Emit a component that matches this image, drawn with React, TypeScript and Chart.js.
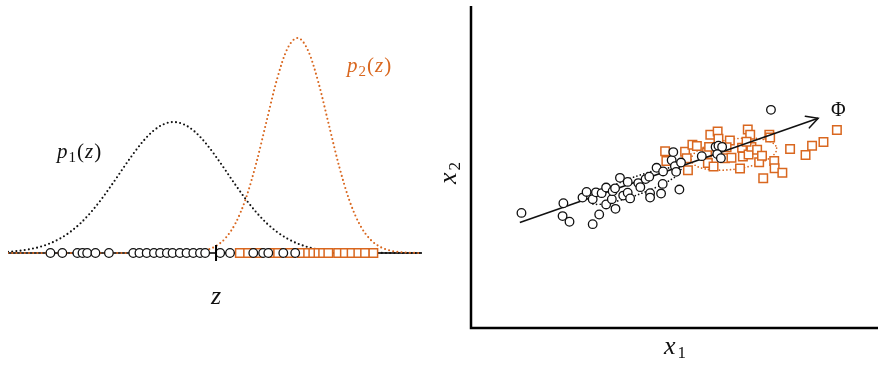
import React, { useEffect, useRef } from "react";
import { Chart, registerables } from "chart.js";

Chart.register(...registerables);

const ORANGE = "#d9671f";
const INK = "#111111";
const SERIF = '"Liberation Serif", "DejaVu Serif", serif';

// ---- Left panel: projected densities along z ----
const zGrid = [
  -3.2, -3.0, -2.8, -2.6, -2.4, -2.2, -2.0, -1.8, -1.6, -1.4, -1.2, -1.0, -0.8, -0.6, -0.4, -0.2,
  0.0, 0.2, 0.4, 0.6, 0.8, 1.0, 1.2, 1.4, 1.6, 1.8, 2.0, 2.2, 2.4, 2.6, 2.8, 3.0, 3.2, 3.4, 3.6,
  3.8, 4.0, 4.2, 4.4, 4.6, 4.8,
];
const p1Values = [
  0.012, 0.021, 0.036, 0.059, 0.094, 0.143, 0.21, 0.297, 0.406, 0.534, 0.678, 0.829, 0.977, 1.111,
  1.218, 1.286, 1.31, 1.286, 1.218, 1.111, 0.977, 0.829, 0.678, 0.534, 0.406, 0.297, 0.21, 0.143,
  0.094, 0.059, 0.036, 0.021, 0.012, 0.007, 0.003, 0.002, 0.001, 0, 0, 0, 0,
];
const p2Values = [
  0, 0, 0, 0, 0, 0, 0, 0, 0, 0, 0, 0, 0, 0, 0, 0,
  0.001, 0.003, 0.009, 0.025, 0.064, 0.147, 0.301, 0.551, 0.904, 1.326, 1.741, 2.045, 2.15, 2.022,
  1.702, 1.282, 0.864, 0.521, 0.281, 0.136, 0.059, 0.023, 0.008, 0.002, 0,
];
const zCircles = [
  -2.38, -2.15, -1.86, -1.76, -1.67, -1.51, -1.25, -0.78, -0.66, -0.52, -0.38, -0.26, -0.13, -0.02,
  0.12, 0.25, 0.38, 0.51, 0.61, 0.9, 1.09, 1.54, 1.73, 1.83, 2.12, 2.35,
];
const zSquares = [
  1.28, 1.44, 1.63, 1.92, 2.02, 2.25, 2.48, 2.6, 2.7, 2.8, 2.89, 2.99, 3.18, 3.31, 3.44, 3.57, 3.7,
  3.86,
];
const zRange = [-3.2, 4.8];
const zThreshold = 0.82;

// ---- Right panel: 2-D scatter ----
const class1X1 = [
  1.24, 2.27, 2.25, 2.42, 2.99, 3.15, 2.74, 2.84, 2.99, 3.07, 3.21, 3.32, 3.32, 3.46, 3.48, 3.54,
  3.55, 3.66, 3.74, 3.85, 3.85, 3.91, 4.11, 4.16, 4.29, 4.38, 4.4, 4.4, 4.56, 4.67, 4.71, 4.72,
  4.93, 4.97, 5.01, 5.04, 5.12, 5.16, 5.67, 6.01, 6.08, 6.17, 6.05, 6.14, 7.37,
];
const class1X2 = [
  2.86, 3.1, 2.78, 2.64, 2.58, 2.82, 3.24, 3.38, 3.2, 3.37, 3.35, 3.49, 3.07, 3.2, 3.4, 3.47,
  2.96, 3.73, 3.29, 3.36, 3.63, 3.22, 3.6, 3.5, 3.7, 3.76, 3.35, 3.24, 3.98, 3.34, 3.58, 3.89,
  4.17, 4.37, 4.02, 3.88, 3.44, 4.11, 4.27, 4.5, 4.53, 4.5, 4.32, 4.22, 5.42,
];
const class2X1 = [
  4.77, 4.8, 5.26, 5.3, 5.33, 5.44, 5.55, 5.8, 5.82, 5.88, 5.96, 6.06, 6.08, 6.24, 6.36, 6.4, 6.61,
  6.66, 6.68, 6.8, 6.82, 6.86, 6.89, 6.77, 7.03, 7.08, 7.15, 7.18, 7.33, 7.35, 7.45, 7.46, 7.65,
  7.84, 8.22, 8.38, 8.66, 8.99, 6.28, 5.85,
];
const class2X2 = [
  4.39, 4.15, 4.38, 4.22, 3.92, 4.55, 4.52, 4.36, 4.1, 4.8, 4.01, 4.88, 4.7, 4.22, 4.66, 4.23, 3.96,
  4.48, 4.26, 4.93, 4.31, 4.8, 4.5, 4.63, 4.43, 4.12, 4.28, 3.72, 4.8, 4.73, 4.15, 3.97, 3.86, 4.45,
  4.3, 4.53, 4.62, 4.92, 4.49, 4.5,
];
const arrowX1 = [1.2, 8.53];
const arrowX2 = [2.62, 5.21];
const x1Range = [0, 10];
const x2Range = [0, 8];

// dotted covariance ellipses (centre in data units, semi-axes in x1 units, tilt in degrees)
const ellipses = [
  { cx: 4.05, cy: 3.53, a: 1.18, b: 0.22, angle: 20, color: INK },
  { cx: 6.46, cy: 4.32, a: 1.06, b: 0.37, angle: 8, color: ORANGE },
];

const pairs = (xs: number[], ys: number[]) => xs.map((x, i) => ({ x, y: ys[i] }));

const dotted = {
  borderDash: [0, 4.2],
  borderCapStyle: "round" as const,
  borderWidth: 2.1,
  pointRadius: 0,
  showLine: true,
  cubicInterpolationMode: "monotone" as const,
};

const rightPlugin = {
  id: "axesAndShapes",
  beforeDatasetsDraw(chart: any) {
    const { ctx, chartArea, scales } = chart;
    const xs = scales.x;
    const ys = scales.y;
    ctx.save();
    ctx.strokeStyle = "#000";
    ctx.lineWidth = 2.5;
    ctx.lineCap = "butt";
    ctx.beginPath();
    ctx.moveTo(chartArea.left, chartArea.top);
    ctx.lineTo(chartArea.left, chartArea.bottom);
    ctx.lineTo(chartArea.right, chartArea.bottom);
    ctx.stroke();
    const ppu = Math.abs(xs.getPixelForValue(1) - xs.getPixelForValue(0));
    for (const e of ellipses) {
      ctx.beginPath();
      ctx.strokeStyle = e.color;
      ctx.lineWidth = 1.7;
      ctx.lineCap = "round";
      ctx.setLineDash([0, 3.6]);
      ctx.ellipse(
        xs.getPixelForValue(e.cx),
        ys.getPixelForValue(e.cy),
        e.a * ppu,
        e.b * ppu,
        (-e.angle * Math.PI) / 180,
        0,
        Math.PI * 2
      );
      ctx.stroke();
    }
    ctx.restore();
  },
  afterDatasetsDraw(chart: any) {
    const meta = chart.getDatasetMeta(1);
    const pts = meta.data;
    if (!pts || pts.length < 2) return;
    const p0 = pts[pts.length - 2];
    const p1 = pts[pts.length - 1];
    const ang = Math.atan2(p1.y - p0.y, p1.x - p0.x);
    const L = 13;
    const th = (28 * Math.PI) / 180;
    const { ctx } = chart;
    ctx.save();
    ctx.strokeStyle = INK;
    ctx.lineWidth = 1.5;
    ctx.lineCap = "round";
    ctx.beginPath();
    ctx.moveTo(p1.x - L * Math.cos(ang - th), p1.y - L * Math.sin(ang - th));
    ctx.lineTo(p1.x, p1.y);
    ctx.lineTo(p1.x - L * Math.cos(ang + th), p1.y - L * Math.sin(ang + th));
    ctx.stroke();
    ctx.restore();
  },
};

function Sub({ children, size, drop, gap = 0 }: { children: React.ReactNode; size: number; drop: number; gap?: number }) {
  return (
    <span style={{ fontSize: size, fontStyle: "normal", position: "relative", top: drop, marginLeft: gap }}>
      {children}
    </span>
  );
}

export default function App() {
  const leftRef = useRef<HTMLCanvasElement>(null);
  const rightRef = useRef<HTMLCanvasElement>(null);

  useEffect(() => {
    const left = new Chart(leftRef.current as HTMLCanvasElement, {
      type: "scatter",
      data: {
        datasets: [
          {
            data: [
              { x: zThreshold, y: -0.08 },
              { x: zThreshold, y: 0.08 },
            ],
            showLine: true,
            borderColor: "#000",
            borderWidth: 2,
            pointRadius: 0,
            order: 0,
          },
          {
            data: zCircles.map((x) => ({ x, y: 0 })),
            pointStyle: "circle",
            pointRadius: 4.3,
            pointBorderWidth: 1.3,
            pointBorderColor: INK,
            pointBackgroundColor: "#fff",
            order: 1,
          },
          {
            data: zSquares.map((x) => ({ x, y: 0 })),
            pointStyle: "rect",
            pointRadius: 6,
            pointBorderWidth: 1.5,
            pointBorderColor: ORANGE,
            pointBackgroundColor: "#fff",
            order: 2,
          },
          { ...dotted, data: pairs(zGrid, p2Values), borderColor: ORANGE, order: 3 },
          { ...dotted, data: pairs(zGrid, p1Values), borderColor: INK, order: 4 },
          {
            data: [
              { x: zRange[0], y: 0 },
              { x: zRange[1], y: 0 },
            ],
            showLine: true,
            borderColor: "#3a3a3a",
            borderWidth: 2,
            pointRadius: 0,
            order: 5,
          },
        ] as any,
      },
      options: {
        animation: false,
        responsive: false,
        events: [],
        layout: { autoPadding: false, padding: { left: 8, right: 18, top: 8, bottom: 0 } },
        plugins: { legend: { display: false }, tooltip: { enabled: false } },
        scales: {
          x: { type: "linear", display: false, min: zRange[0], max: zRange[1] },
          y: { type: "linear", display: false, min: -0.67, max: 2.45 },
        },
      } as any,
    });

    const right = new Chart(rightRef.current as HTMLCanvasElement, {
      type: "scatter",
      data: {
        datasets: [
          {
            data: pairs(class1X1, class1X2),
            pointStyle: "circle",
            pointRadius: 4.3,
            pointBorderWidth: 1.3,
            pointBorderColor: INK,
            pointBackgroundColor: "#fff",
            order: 0,
          },
          {
            data: pairs(arrowX1, arrowX2),
            showLine: true,
            borderColor: INK,
            borderWidth: 1.6,
            pointRadius: 0,
            order: 1,
          },
          {
            data: pairs(class2X1, class2X2),
            pointStyle: "rect",
            pointRadius: 6,
            pointBorderWidth: 1.5,
            pointBorderColor: ORANGE,
            pointBackgroundColor: "#fff",
            order: 2,
          },
        ] as any,
      },
      options: {
        animation: false,
        responsive: false,
        events: [],
        layout: { autoPadding: false, padding: { left: 31, right: 0, top: 6, bottom: 37 } },
        plugins: { legend: { display: false }, tooltip: { enabled: false } },
        scales: {
          x: { type: "linear", display: false, min: x1Range[0], max: x1Range[1] },
          y: { type: "linear", display: false, min: x2Range[0], max: x2Range[1] },
        },
      } as any,
      plugins: [rightPlugin],
    });

    return () => {
      left.destroy();
      right.destroy();
    };
  }, []);

  const label: React.CSSProperties = {
    position: "absolute",
    fontFamily: SERIF,
    whiteSpace: "nowrap",
    color: INK,
  };

  return (
    <div
      style={{
        position: "absolute",
        left: 0,
        top: 0,
        width: 878,
        height: 365,
        background: "#fff",
        overflow: "hidden",
      }}
    >
      <canvas
        ref={leftRef}
        width={440}
        height={320}
        style={{ position: "absolute", left: 0, top: 0, width: 440, height: 320 }}
      />
      <canvas
        ref={rightRef}
        width={438}
        height={365}
        style={{ position: "absolute", left: 440, top: 0, width: 438, height: 365 }}
      />
      <div style={{ ...label, left: 57, top: 141, fontSize: 21, lineHeight: "21px", letterSpacing: 1 }}>
        <i>p</i>
        <Sub size={15} drop={4}>1</Sub>(<i>z</i>)
      </div>
      <div
        style={{ ...label, left: 347, top: 55, fontSize: 21, lineHeight: "21px", letterSpacing: 1, color: ORANGE }}
      >
        <i>p</i>
        <Sub size={15} drop={4}>2</Sub>(<i>z</i>)
      </div>
      <div style={{ ...label, left: 211, top: 283, fontSize: 26, lineHeight: "26px" }}>
        <i>z</i>
      </div>
      <div style={{ ...label, left: 664, top: 333, fontSize: 26, lineHeight: "26px" }}>
        <i>x</i>
        <Sub size={17} drop={4} gap={2}>1</Sub>
      </div>
      <div
        style={{
          ...label,
          left: 435,
          top: 184,
          fontSize: 26,
          lineHeight: "26px",
          transformOrigin: "left top",
          transform: "rotate(-90deg)",
        }}
      >
        <i>x</i>
        <Sub size={17} drop={4} gap={2}>2</Sub>
      </div>
      <div style={{ ...label, left: 831, top: 100, fontSize: 20, lineHeight: "19px" }}>Φ</div>
    </div>
  );
}
